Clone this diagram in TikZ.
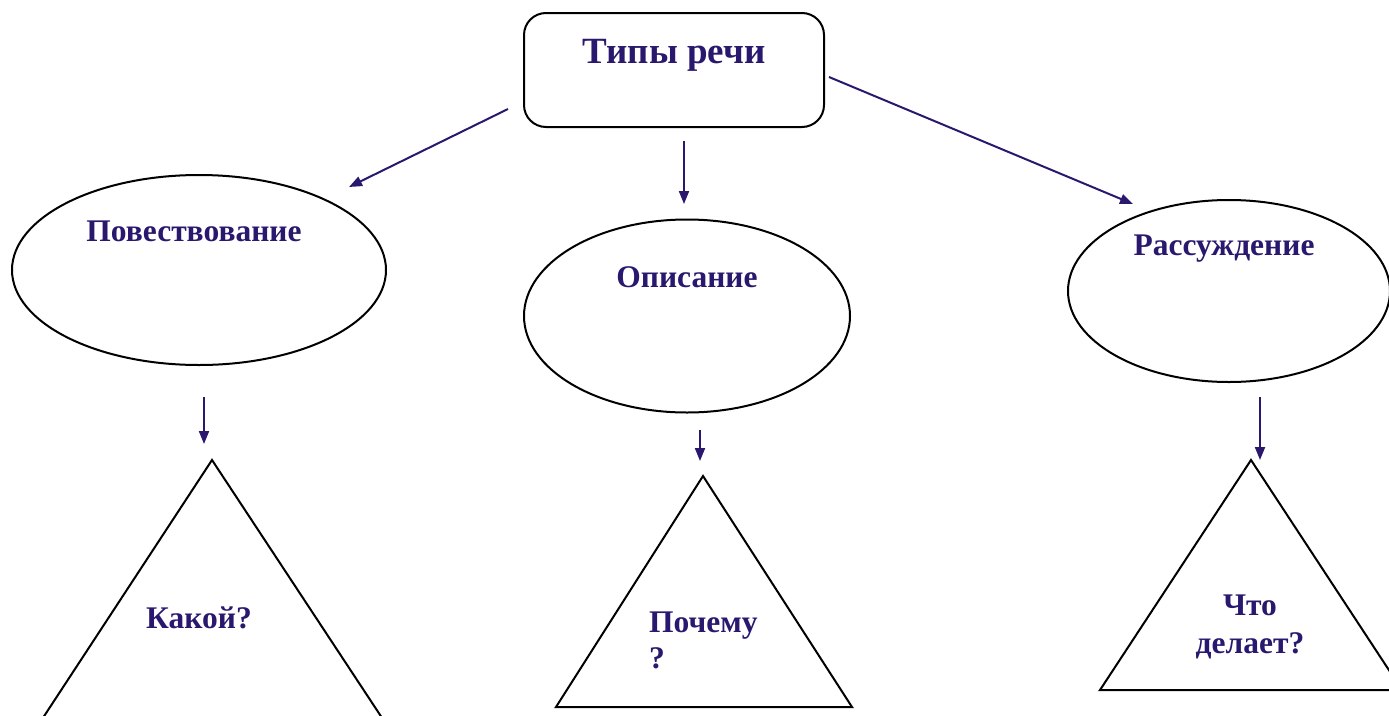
\documentclass[tikz,border=0pt]{standalone}
\usepackage{fontspec}
\setmainfont{Liberation Serif}
\usetikzlibrary{arrows.meta,shapes.geometric}
\definecolor{ink}{RGB}{42,24,110}
\tikzset{
  shapeline/.style={draw=black,line width=2pt},
  conn/.style={draw=ink,line width=2pt,-{Triangle[length=13pt,width=10pt]}},
  lbl/.style={text=ink,font=\fontsize{31.5}{36}\selectfont\bfseries,inner sep=0pt,anchor=base},
}
\begin{document}
\begin{tikzpicture}[x=1pt,y=-1pt]
\clip (0,0) rectangle (1389,715);
\useasboundingbox (0,0) rectangle (1389,715);
% top box
\node[shapeline,rounded corners=22pt,minimum width=300pt,minimum height=114pt] (root) at (674,70) {};
\node[lbl,font=\fontsize{37}{44}\selectfont\bfseries] (roottxt) at (674,63) {Типы речи};
% ellipses
\node[shapeline,ellipse,minimum width=374pt,minimum height=190pt] (e1) at (199,270) {};
\node[lbl] (e1txt) at (194,241) {Повествование};
\node[shapeline,ellipse,minimum width=326pt,minimum height=193pt] (e2) at (687,316) {};
\node[lbl] (e2txt) at (687,287) {Описание};
\node[shapeline,ellipse,minimum width=322pt,minimum height=182pt] (e3) at (1229,291) {};
\node[lbl] (e3txt) at (1224,255) {Рассуждение};
% triangles
\coordinate (t1) at (212,460);
\coordinate (t2) at (703,476);
\coordinate (t3) at (1251,460);
\draw[line width=2pt,line join=miter] (t1) -- (390,730) -- (35,730) -- cycle;
\draw[line width=2pt,line join=miter] (t2) -- (852,707) -- (556,707) -- cycle;
\draw[line width=2pt,line join=miter] (t3) -- (1402,690) -- (1100,690) -- cycle;
\node[lbl] (k1) at (199,628) {Какой?};
\node[lbl,align=left,anchor=base west] (k2) at (649,668) {Почему\\?};
\node[lbl,align=center] (k3) at (1250,653) {Что\\[2pt]делает?};
% connectors
\coordinate (a1s) at (508,109); \coordinate (a1e) at (349,187);
\coordinate (a2s) at (684,141); \coordinate (a2e) at (684,204);
\coordinate (a3s) at (829,77);  \coordinate (a3e) at (1133,204);
\coordinate (b1s) at (204,397); \coordinate (b1e) at (204,444);
\coordinate (b2s) at (700,430); \coordinate (b2e) at (700,461);
\coordinate (b3s) at (1260,397); \coordinate (b3e) at (1260,460);
\draw[conn] (a1s) -- (a1e);
\draw[conn] (a2s) -- (a2e);
\draw[conn] (a3s) -- (a3e);
\draw[conn] (b1s) -- (b1e);
\draw[conn] (b2s) -- (b2e);
\draw[conn] (b3s) -- (b3e);
\end{tikzpicture}
\end{document}
